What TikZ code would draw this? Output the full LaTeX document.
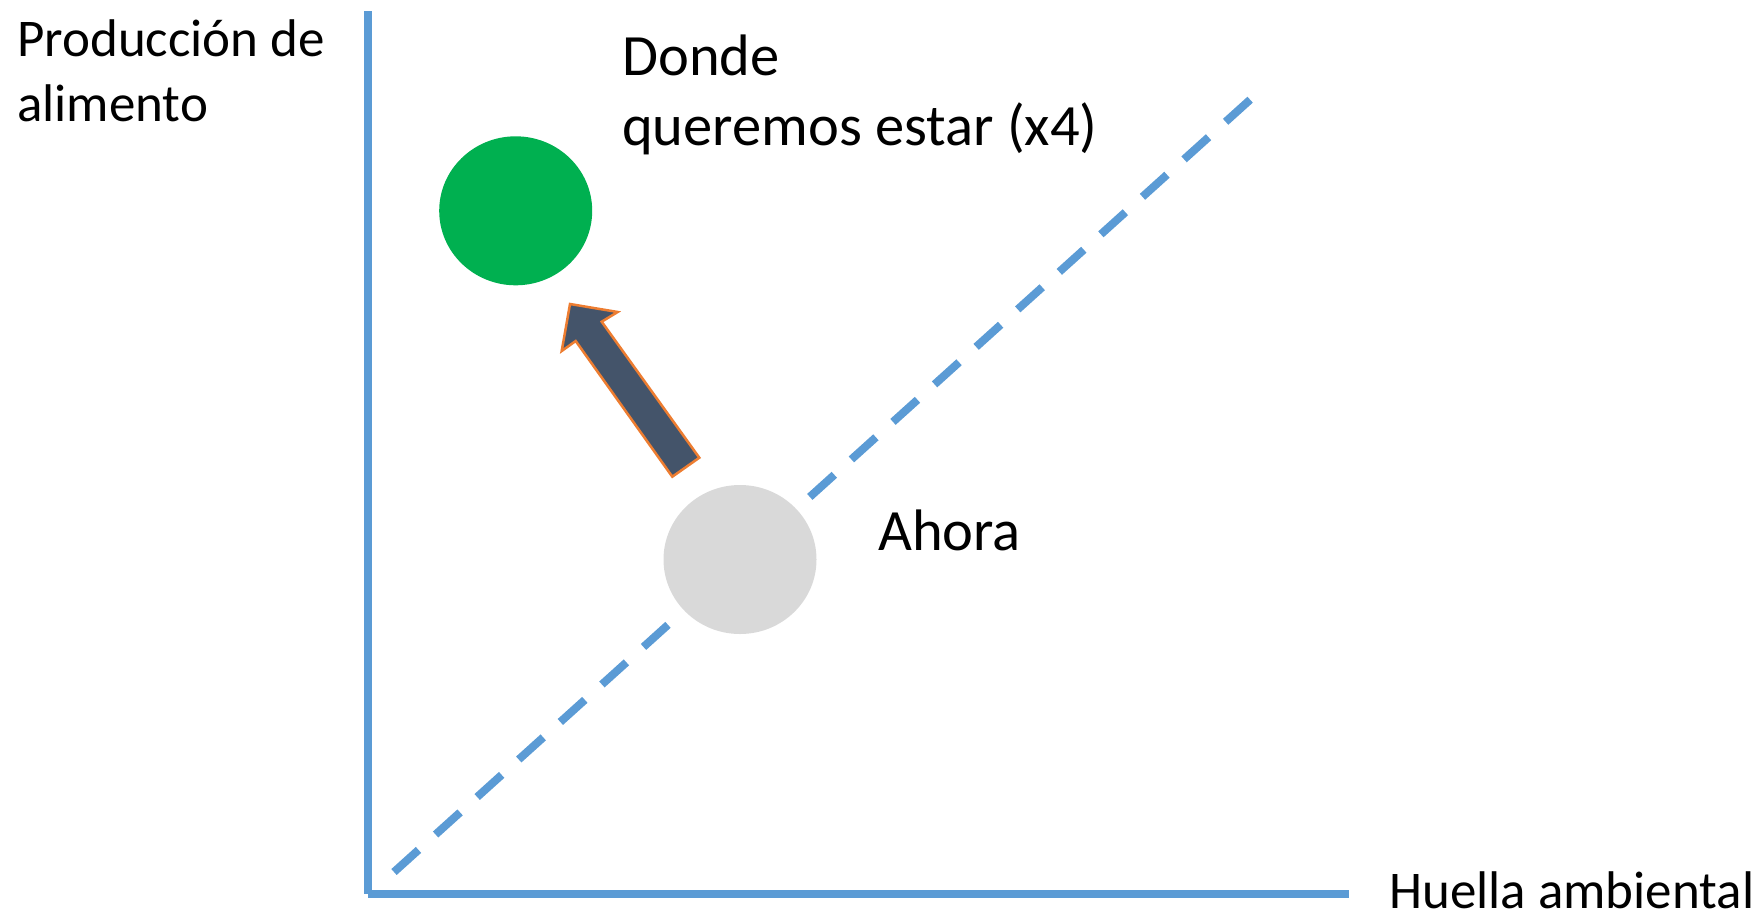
\documentclass[tikz,border=0pt]{standalone}
\usepackage{fontspec}
\setmainfont{Carlito}
\usetikzlibrary{shapes.geometric}
\definecolor{axisblue}{HTML}{5B9BD5}
\definecolor{goalgreen}{HTML}{00B050}
\definecolor{nowgrey}{HTML}{D9D9D9}
\definecolor{arrowslate}{HTML}{44546A}
\definecolor{arroworange}{HTML}{ED7D31}
\begin{document}
\begin{tikzpicture}[x=1pt,y=-1pt,
    axis/.style={axisblue,line width=8pt},
    lbl/.style={anchor=base west,inner sep=0pt,font=\fontsize{53}{65}\selectfont,align=left},
    biglbl/.style={lbl,font=\fontsize{58.5}{70}\selectfont},
    blob/.style={ellipse,minimum width=153pt,minimum height=149pt,inner sep=0pt}]
\useasboundingbox (0,0) rectangle (1758,914);
% axes
\coordinate (ytop) at (368,11);
\coordinate (orig) at (368,894);
\coordinate (xend) at (1349,894);
\draw[axis] (ytop) -- (orig);
\draw[axis] (orig) -- (xend);
% diagonal
\coordinate (dlow) at (394,872);
\coordinate (dhigh) at (1252,98);
\draw[axis,dash pattern=on 33pt off 23pt] (dlow) -- (dhigh);
% points
\node[blob,fill=goalgreen] (goal) at (515.7,210.8) {};
\node[blob,fill=nowgrey] (now) at (740,559.5) {};
% block arrow
\filldraw[fill=arrowslate,draw=arroworange,line width=2.5pt,line join=miter]
  (570,304) -- (617.7,312) -- (601.7,321.7) -- (699.3,457.7)
  -- (672.3,476.7) -- (575.7,341) -- (561.7,351) -- cycle;
% labels (base = last line)
\node[lbl] (ylab) at (17,121) {Producción de\\alimento};
\node[lbl] (xlab) at (1389,908) {Huella ambiental};
\node[biglbl] (goallab) at (622,145) {Donde\\queremos estar (x4)};
\node[biglbl] (nowlab) at (878,550) {Ahora};
\end{tikzpicture}
\end{document}
